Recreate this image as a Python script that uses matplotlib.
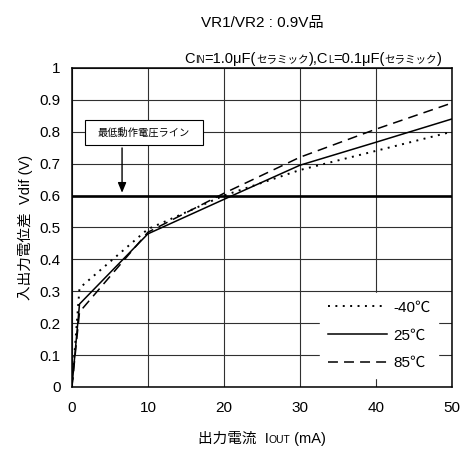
import matplotlib
matplotlib.use("Agg")
import matplotlib.pyplot as plt
from matplotlib.patches import Rectangle
from matplotlib.transforms import IdentityTransform

plt.rcParams['font.family'] = ['Liberation Sans', 'Noto Sans CJK JP', 'DejaVu Sans']

# output current (mA) and dropout voltage Vdif (V) per temperature
iout = [0, 1, 10, 20, 30, 40, 50]
vdif_m40 = [0.0, 0.31, 0.495, 0.60, 0.68, 0.74, 0.80]
vdif_25 = [0.0, 0.26, 0.48, 0.588, 0.695, 0.767, 0.84]
vdif_85 = [0.0, 0.235, 0.485, 0.607, 0.72, 0.808, 0.89]
labels = ['-40℃', '25℃', '85℃']
min_op_line = 0.6

xticks = [0, 10, 20, 30, 40, 50]
yticks = [0, 0.1, 0.2, 0.3, 0.4, 0.5, 0.6, 0.7, 0.8, 0.9, 1]
ytick_labels = ['0', '0.1', '0.2', '0.3', '0.4', '0.5', '0.6', '0.7', '0.8', '0.9', '1']


def text_runs(fig, x, y, runs, ha='left'):
    # place text pieces of different sizes side by side on one baseline (pixels)
    renderer = fig.canvas.get_renderer()
    items = []
    for s, size in runs:
        t = fig.text(0, y, s, fontsize=size, transform=IdentityTransform(),
                     va='baseline', ha='left')
        items.append((t, t.get_window_extent(renderer).width))
    total = sum(w for _, w in items)
    cur = x - total if ha == 'right' else (x - total / 2 if ha == 'center' else x)
    for t, w in items:
        t.set_position((cur, y))
        cur += w


fig = plt.figure(figsize=(4.61, 4.5), dpi=100)
ax = fig.add_axes([0.156, 0.140, 0.824, 0.709])

ax.plot(iout, vdif_m40, color='black', lw=1.4, linestyle=(0, (1, 2.8)), label=labels[0])
ax.plot(iout, vdif_25, color='black', lw=1.1, linestyle='-', label=labels[1])
ax.plot(iout, vdif_85, color='black', lw=1.1, linestyle=(0, (6.5, 4)), label=labels[2])
ax.axhline(min_op_line, color='black', lw=1.9, zorder=3)

ax.set_xlim(0, 50)
ax.set_ylim(0, 1)
ax.set_xticks(xticks)
ax.set_yticks(yticks)
ax.set_yticklabels(ytick_labels)
ax.tick_params(length=0, labelsize=11, pad=8)
ax.tick_params(axis='x', pad=10)
ax.grid(True, color='#303030', lw=0.8)
for sp in ax.spines.values():
    sp.set_linewidth(1.1)

# minimum operating voltage callout
ax.add_patch(Rectangle((1.7, 0.758), 15.5, 0.078, facecolor='white',
                       edgecolor='black', lw=0.8, zorder=4))
ax.text(9.45, 0.797, '最低動作電圧ライン', fontsize=7.4, ha='center', va='center', zorder=5)
ax.annotate('', xy=(6.6, 0.6), xytext=(6.6, 0.758),
            arrowprops=dict(arrowstyle='-|>,head_length=0.6,head_width=0.25',
                            color='black', lw=1.0), zorder=5)

leg = ax.legend(loc='lower right', bbox_to_anchor=(0.985, 0.005), fontsize=11,
                handlelength=3.9, handletextpad=0.4, labelspacing=0.9,
                frameon=True, fancybox=False, borderpad=0.5)
leg.get_frame().set_edgecolor('white')
leg.get_frame().set_facecolor('white')
leg.get_frame().set_alpha(1)

ax.set_ylabel('入出力電位差  Vdif (V)', fontsize=10.5, labelpad=5)

H = 450
text_runs(fig, 262, H - 27, [('VR1/VR2 : 0.9V品', 11)], ha='center')
text_runs(fig, 442, H - 63, [('C', 10.5), ('IN', 7), ('=1.0μF(', 10.5), ('セラミック', 7.6),
                             ('),C', 10.5), ('L', 7), ('=0.1μF(', 10.5), ('セラミック', 7.6),
                             (')', 10.5)], ha='right')
text_runs(fig, 262, H - 443, [('出力電流  I', 10.5), ('OUT', 7.5), (' (mA)', 10.5)], ha='center')

fig.savefig('out.png', dpi=100)
